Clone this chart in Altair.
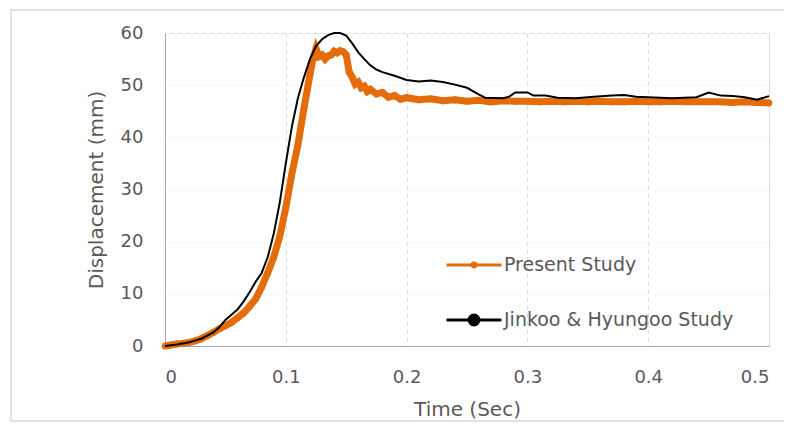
import altair as alt
import pandas as pd

# Present Study (orange)
t_present = [0.0, 0.005, 0.01, 0.015, 0.02, 0.025, 0.03, 0.035, 0.04, 0.045,
             0.05, 0.055, 0.06, 0.065, 0.07, 0.075, 0.08, 0.085, 0.09, 0.095,
             0.1, 0.105, 0.11, 0.115, 0.12, 0.1225, 0.125, 0.1275, 0.13, 0.1325,
             0.135, 0.1375, 0.14, 0.1425, 0.145, 0.1475, 0.15, 0.1525, 0.155, 0.1575,
             0.16, 0.1625, 0.165, 0.1675, 0.17, 0.175, 0.18, 0.185, 0.19, 0.195,
             0.2, 0.21, 0.22, 0.23, 0.24, 0.25, 0.26, 0.27, 0.28, 0.29,
             0.3, 0.31, 0.32, 0.33, 0.34, 0.35, 0.36, 0.37, 0.38, 0.39,
             0.4, 0.41, 0.42, 0.43, 0.44, 0.45, 0.46, 0.47, 0.48, 0.49, 0.5]
d_present = [0.0, 0.2, 0.4, 0.5, 0.7, 1.0, 1.4, 2.0, 2.6, 3.3,
             3.9, 4.5, 5.4, 6.3, 7.6, 9.0, 11.3, 14.0, 17.0, 21.0,
             26.5, 33.0, 38.5, 45.5, 52.0, 55.0, 57.0, 55.5, 55.8, 55.0,
             55.6, 55.8, 56.5, 56.2, 56.6, 56.4, 55.8, 52.5, 51.5, 50.2,
             50.6, 49.5, 49.8, 48.8, 49.2, 48.3, 48.6, 47.7, 48.0, 47.3,
             47.6, 47.2, 47.4, 47.0, 47.2, 46.9, 47.1, 46.8, 47.0, 46.9,
             46.9, 46.8, 46.9, 46.8, 46.9, 46.8, 46.9, 46.8, 46.8, 46.9,
             46.8, 46.8, 46.9, 46.8, 46.8, 46.8, 46.8, 46.7, 46.8, 46.7, 46.6]

# Jinkoo & Hyungoo Study (black)
t_jinkoo = [0.0, 0.01, 0.02, 0.03, 0.04, 0.045, 0.05, 0.055, 0.06, 0.065,
            0.07, 0.075, 0.08, 0.085, 0.09, 0.095, 0.1, 0.105, 0.11, 0.115,
            0.12, 0.125, 0.13, 0.135, 0.14, 0.145, 0.15, 0.155, 0.16, 0.165,
            0.17, 0.175, 0.18, 0.19, 0.2, 0.21, 0.22, 0.23, 0.24, 0.25,
            0.26, 0.265, 0.28, 0.285, 0.29, 0.3, 0.305, 0.315, 0.325, 0.34,
            0.355, 0.37, 0.38, 0.39, 0.4, 0.42, 0.44, 0.45, 0.46, 0.47,
            0.48, 0.49, 0.5]
d_jinkoo = [0.0, 0.3, 0.7, 1.4, 2.6, 3.6, 5.0, 6.0, 7.0, 8.5,
            10.3, 12.3, 14.0, 17.0, 21.5, 27.5, 35.0, 42.0, 47.5, 51.5,
            55.0, 57.5, 58.8, 59.6, 60.0, 60.0, 59.5, 58.0, 56.3, 55.0,
            53.8, 53.0, 52.5, 51.8, 51.0, 50.7, 50.9, 50.6, 50.1, 49.5,
            48.2, 47.6, 47.5, 47.8, 48.6, 48.6, 48.0, 48.0, 47.6, 47.5,
            47.8, 48.0, 48.1, 47.8, 47.7, 47.5, 47.7, 48.6, 48.0, 47.9,
            47.7, 47.2, 47.9]

series_names = ["Present Study", "Jinkoo & Hyungoo Study"]
series_colors = ["#E46C0A", "#000000"]

df_p = pd.DataFrame({"t": t_present, "d": d_present, "series": series_names[0]})
df_j = pd.DataFrame({"t": t_jinkoo, "d": d_jinkoo, "series": series_names[1]})

FONT = "DejaVu Sans"
GRAY = "#595959"

x_enc = alt.X("t:Q", scale=alt.Scale(domain=[0, 0.5], nice=False),
              axis=alt.Axis(title="Time (Sec)", values=[0, 0.1, 0.2, 0.3, 0.4, 0.5],
                            format="~g", grid=True, gridDash=[4, 4], gridColor="#d9d9d9",
                            titlePadding=13, labelPadding=22))
y_enc = alt.Y("d:Q", scale=alt.Scale(domain=[0, 60], nice=False),
              axis=alt.Axis(title="Displacement (mm)", values=[0, 10, 20, 30, 40, 50, 60],
                            grid=True, gridDash=[4, 4], gridColor="#f0f0f0",
                            titlePadding=14, labelPadding=22))

shape_expr = ("datum.value == 'Present Study' ? "
              "'M-1,0L1,0M-0.07,0A0.07,0.07,0,1,0,0.07,0A0.07,0.07,0,1,0,-0.07,0Z' : "
              "'M-1,0L1,0M-0.18,0A0.18,0.18,0,1,0,0.18,0A0.18,0.18,0,1,0,-0.18,0Z'")
fill_expr = "datum.value == 'Present Study' ? '#E46C0A' : '#000000'"

color_enc = alt.Color("series:N",
                      scale=alt.Scale(domain=series_names, range=series_colors),
                      sort=series_names,
                      legend=alt.Legend(title=None, orient="none", legendX=280, legendY=203,
                                        symbolSize=3025, symbolStrokeWidth=3,
                                        symbolType={"expr": shape_expr},
                                        symbolFillColor={"expr": fill_expr},
                                        labelOffset=1, padding=0, rowPadding=16,
                                        labelLimit=0,
                                        labelFont=FONT, labelFontSize=19, labelColor=GRAY))

frame = alt.Chart(alt.Data(values=[{}])).mark_rect(
    fill=None, stroke="#d9d9d9", strokeWidth=1.5, clip=False
).encode(x=alt.value(-154), x2=alt.value(626), y=alt.value(-23), y2=alt.value(388))

orange_line = alt.Chart(df_p).mark_line(strokeWidth=7).encode(
    x=x_enc, y=y_enc, color=color_enc)
orange_pts = alt.Chart(df_p).mark_circle(size=45, opacity=1, color="#E46C0A").encode(
    x="t:Q", y="d:Q")
black_line = alt.Chart(df_j).mark_line(strokeWidth=2).encode(
    x="t:Q", y="d:Q", color=alt.Color("series:N"))

chart = alt.layer(frame, orange_line, orange_pts, black_line).properties(
    width=604, height=313,
    autosize=alt.AutoSizeParams(type="none"),
    padding={"left": 157, "top": 25, "right": 15, "bottom": 76},
).configure_view(stroke="#d9d9d9").configure_axis(
    labelFont=FONT, labelFontSize=18, labelColor=GRAY,
    titleFont=FONT, titleFontSize=20, titleColor=GRAY, titleFontWeight="normal",
    domainColor="#a6a6a6", ticks=False
)

chart.save("out.html", embed_options={"renderer": "svg", "actions": False})
